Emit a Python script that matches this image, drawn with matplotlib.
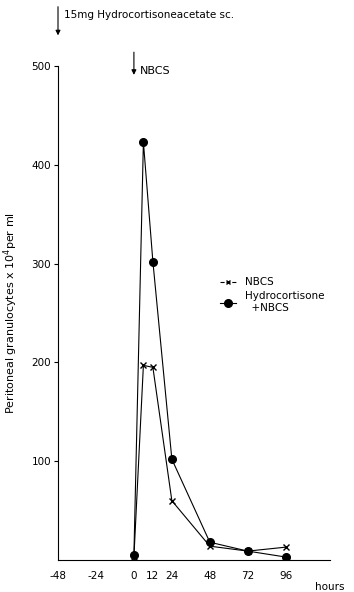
import matplotlib
matplotlib.use("Agg")
import matplotlib.pyplot as plt
from matplotlib.lines import Line2D

hours = [0, 6, 12, 24, 48, 72, 96]
nbcs = [3, 197, 195, 60, 14, 9, 13]
hydro_nbcs = [5, 423, 302, 102, 18, 9, 3]
xticks = [-48, -24, 0, 12, 24, 48, 72, 96]
yticks = [100, 200, 300, 400, 500]

plt.rcParams['font.family'] = ['DejaVu Sans']
fig = plt.figure(figsize=(3.54, 5.92), dpi=100)
ax = fig.add_axes([58/354, 1-560/592, (330-58)/354, (560-66)/592])
ax.set_xlim(-48, 124)
ax.set_ylim(0, 500)

ax.plot(hours, nbcs, color='black', lw=0.8, marker='x', ms=4, mew=1.0)
ax.plot(hours, hydro_nbcs, color='black', lw=0.8, marker='o', ms=5.5)

for s in ['top', 'right']:
    ax.spines[s].set_visible(False)
ax.spines['left'].set_linewidth(0.8)
ax.spines['bottom'].set_linewidth(0.8)
ax.set_xticks(xticks)
ax.set_xticklabels([str(v) for v in xticks])
ax.set_yticks(yticks)
ax.tick_params(axis='x', length=0, labelsize=7.5, pad=8)
ax.tick_params(axis='y', length=3, width=0.8, labelsize=7.5, pad=2)
ax.set_ylabel('Peritoneal granulocytes x 10$^{4}$per ml', fontsize=8, labelpad=8)

fig.text(330/354, 1-587/592, 'hours', fontsize=7.5, ha='center', va='center')

# annotations
ax.annotate('', xy=(-48, 531), xytext=(-48, 560), xycoords='data',
            arrowprops=dict(arrowstyle='-|>', color='black', lw=0.8, mutation_scale=7,
                            shrinkA=0, shrinkB=0),
            annotation_clip=False)
ax.text(-44, 552, '15mg Hydrocortisoneacetate sc.', fontsize=7.5, va='center', ha='left', clip_on=False)
ax.annotate('', xy=(0, 491), xytext=(0, 514), xycoords='data',
            arrowprops=dict(arrowstyle='-|>', color='black', lw=0.8, mutation_scale=7,
                            shrinkA=0, shrinkB=0),
            annotation_clip=False)
ax.text(4, 495, 'NBCS', fontsize=8, va='center', ha='left', clip_on=False)

handles = [Line2D([], [], color='black', lw=0.8, ls='--', marker='x', ms=3.5, mew=1.0),
           Line2D([], [], color='black', lw=0.8, marker='o', ms=5.5)]
ax.legend(handles, ['NBCS', 'Hydrocortisone\n  +NBCS'], loc='upper left',
          bbox_to_anchor=(0.575, 0.583), frameon=False, fontsize=7.5,
          handlelength=1.6, handletextpad=0.8, labelspacing=0.4, borderpad=0)

fig.savefig('out.png', dpi=100)
